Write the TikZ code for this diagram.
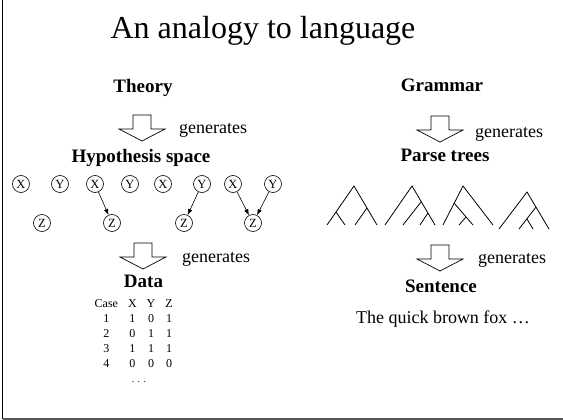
\documentclass[tikz,border=0pt]{standalone}
\usepackage{fontspec}
\setmainfont{Liberation Serif}
\usetikzlibrary{arrows.meta}

\tikzstyle{every node}=[inner sep=0pt]
\tikzstyle{title}=[font=\fontsize{32}{36}\selectfont, anchor=base]
\tikzstyle{heading}=[font=\fontsize{19}{22}\selectfont\bfseries, anchor=base]
\tikzstyle{verb}=[font=\fontsize{18}{22}\selectfont, anchor=base west]
\tikzstyle{var}=[circle, draw, line width=0.6pt, minimum size=17pt, font=\fontsize{12.5}{12.5}\selectfont]
\tikzstyle{edge}=[line width=0.6pt, -{Latex[length=6pt,width=4.5pt]}]
\tikzstyle{branch}=[line width=0.8pt]
\tikzset{genarrow/.pic={
    \draw[line width=0.7pt] (-9,0) -- (9,0) -- (9,14) -- (23,14) -- (0,26)
        -- (-23,14) -- (-9,14) -- cycle;
}}

\begin{document}
\begin{tikzpicture}[x=1pt, y=-1pt]
    \useasboundingbox (0,0) rectangle (563,420);
    \draw[line width=1.2pt] (2.5,0) -- (2.5,418.5);
    \draw[black!65, line width=2pt] (2.5,418.5) -- (563,418.5);

    \node [title] (title) at (263,39) {An analogy to language};

    % left column: theory -> hypotheses -> data
    \node [heading] (theory) at (143,93) {Theory};
    \pic (gen1) at (142,115) {genarrow};
    \node [verb] (verb1) at (179,134) {generates};
    \node [heading] (hyp) at (141,162) {Hypothesis space};

    \foreach \name/\lbl/\x in {x1/X/21, y1/Y/60, x2/X/95, y2/Y/130,
                               x3/X/163, y3/Y/202, x4/X/233, y4/Y/273}
        \node [var] (\name) at (\x,184) {\lbl};
    \foreach \name/\x in {z1/42, z2/112, z3/184, z4/253}
        \node [var] (\name) at (\x,223) {Z};
    \draw [edge] (x2) -- (z2);
    \draw [edge] (y3) -- (z3);
    \draw [edge] (x4) -- (z4);
    \draw [edge] (y4) -- (z4);

    \pic (gen2) at (143,243) {genarrow};
    \node [verb] (verb2) at (182,262) {generates};
    \node [heading] (data) at (143.5,287) {Data};
    \node [anchor=base west, font=\fontsize{12}{15.2}\selectfont] (cases) at (89.5,307)
        {\setlength{\tabcolsep}{5pt}\begin{tabular}[t]{cccc}
            Case & X & Y & Z\\
            1 & 1 & 0 & 1\\
            2 & 0 & 1 & 1\\
            3 & 1 & 1 & 1\\
            4 & 0 & 0 & 0
        \end{tabular}};
    \node [anchor=base, font=\fontsize{10}{10}\selectfont] (more) at (139,382) {. . .};

    % right column: grammar -> parse trees -> sentence
    \node [heading] (grammar) at (442,92) {Grammar};
    \pic (gen3) at (440,116) {genarrow};
    \node [verb] (verb3) at (475,137) {generates};
    \node [heading] (parse) at (445,161) {Parse trees};

    \draw [branch] (327,225) -- (354,186) -- (377,225);
    \draw [branch] (336,212) -- (345,225);
    \draw [branch] (367,208) -- (355,225);

    \draw [branch] (385,225) -- (412,186) -- (435,225);
    \draw [branch] (421,202) -- (403,225);
    \draw [branch] (428,213) -- (420,225);

    \draw [branch] (443,225) -- (463,186) -- (493,225);
    \draw [branch] (454,203) -- (473,225);
    \draw [branch] (466,217) -- (459,225);

    \draw [branch] (499,229) -- (527,192) -- (549,229);
    \draw [branch] (536,207) -- (519,229);
    \draw [branch] (527,219) -- (533,229);

    \pic (gen4) at (440,245) {genarrow};
    \node [verb] (verb4) at (478,263) {generates};
    \node [heading] (sentence) at (441,292) {Sentence};
    \node [font=\fontsize{18}{22}\selectfont, anchor=base] (fox) at (443,323) {The quick brown fox …};
\end{tikzpicture}
\end{document}
